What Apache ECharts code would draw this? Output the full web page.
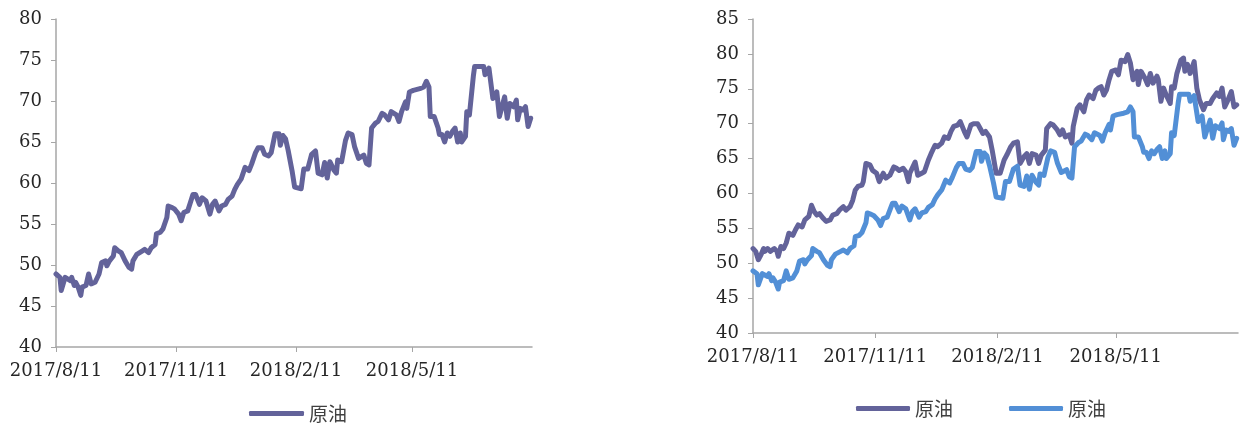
<!DOCTYPE html>
<html>
<head>
<meta charset="utf-8">
<script src="https://cdn.jsdelivr.net/npm/echarts@6/dist/echarts.min.js"></script>
<style>
  html, body { margin: 0; padding: 0; background: #fff; }
  #chart { width: 1241px; height: 428px; }
</style>
</head>
<body>
<div id="chart"></div>
<script>
// days counted from 2017/8/11
const startDate = '2017/8/11';
const endDate = '2018/8/11';
const tickDates = ['2017/8/11', '2017/11/11', '2018/2/11', '2018/5/11'];
const legendLabel = '原油';

// 原油 (left chart, and blue line on the right)
const blueDays = [0,3,4,7,8,11,12,14,15,17,19,20,23,25,26,27,30,33,35,38,39,41,44,45,48,50,53,56,58,59,62,66,68,71,73,76,77,80,82,85,86,89,91,94,96,98,101,103,105,107,110,112,115,118,120,122,125,127,130,132,135,137,139,142,145,148,150,153,155,158,160,163,165,168,171,172,174,176,178,181,183,188,190,193,196,199,201,204,206,208,210,213,215,216,219,222,224,227,229,232,236,238,240,242,245,247,250,252,255,257,261,263,265,268,269,271,274,279,282,284,286,287,290,291,293,294,296,298,300,302,304,306,308,310,311,314,315,317,320,321,325,328,329,332,333,335,338,340,342,344,346,348,351,353,354,356,358,360,362,364];
const blueValues = [48.9,48.5,46.9,48.5,48.7,48.1,48.5,47.5,47.9,47.3,46.3,47.3,47.5,48.9,49.1,47.7,47.9,48.9,50.3,50.5,49.9,50.5,51.1,52.1,51.7,51.5,50.5,49.7,49.5,50.5,51.3,51.7,51.9,51.5,52.1,52.5,53.8,54.0,54.4,55.8,57.2,57.0,56.8,56.2,55.4,56.4,56.6,57.6,58.6,58.6,57.4,58.2,57.8,56.2,57.4,57.8,56.6,57.2,57.4,58.0,58.4,59.2,59.8,60.5,61.9,61.5,62.3,63.7,64.3,64.3,63.5,63.3,63.7,66.0,66.0,64.6,65.8,65.4,64.0,61.5,59.5,59.3,61.7,61.7,63.5,63.9,61.2,61.0,62.5,60.6,62.6,61.6,61.2,62.8,62.6,65.2,66.1,65.9,64.4,63.0,63.4,62.4,62.2,66.7,67.3,67.5,68.5,68.3,67.7,68.7,68.3,67.5,68.7,69.9,69.1,71.1,71.3,71.5,71.7,72.4,71.7,68.1,68.1,68.3,66.7,65.9,65.9,65.0,66.1,65.7,66.3,66.7,65.0,66.1,65.0,65.7,68.7,68.3,73.0,74.2,74.2,74.2,73.2,74.0,74.2,70.3,71.1,68.1,69.3,70.5,67.9,69.7,69.3,70.1,67.7,69.1,68.9,69.3,66.9,67.9];

// 原油 (purple line on the right)
const purpleDays = [0,2,4,6,8,9,11,13,16,18,19,21,23,25,27,28,30,32,34,37,39,42,44,46,48,50,53,55,58,60,63,65,68,70,73,75,77,79,82,83,85,88,90,93,95,98,100,103,106,108,110,113,115,117,118,122,124,127,129,132,134,137,139,142,144,147,149,151,154,156,159,161,164,166,169,171,173,175,178,180,183,186,189,191,194,196,199,201,204,206,208,210,213,215,217,220,221,224,226,229,231,233,235,238,240,241,244,246,249,251,253,256,258,260,262,264,266,268,270,273,275,277,280,282,284,286,289,290,292,295,297,299,301,304,305,307,309,311,314,315,317,319,322,324,325,327,329,332,334,336,339,341,344,346,349,351,353,355,357,360,362,364];
const purpleValues = [52.1,51.7,50.5,51.2,52.1,51.7,52.1,51.7,52.1,51.7,51.0,52.4,52.1,52.9,54.3,54.5,54.0,54.8,55.5,55.2,56.2,56.7,58.3,57.4,56.9,57.1,56.4,56.0,56.2,56.9,57.1,57.6,58.1,57.6,58.1,59.0,60.5,61.0,61.2,61.7,64.3,64.1,63.3,62.9,61.7,62.9,62.2,62.6,63.8,63.6,63.3,63.6,63.1,61.7,62.9,64.5,62.6,62.9,63.1,64.8,65.7,66.9,66.7,67.2,68.1,67.9,68.9,69.6,69.8,70.3,68.9,68.1,69.8,70.0,70.0,69.3,68.6,68.9,68.1,66.2,62.9,62.9,64.8,65.5,66.7,67.2,67.4,64.3,65.3,65.7,64.3,65.7,65.5,64.3,65.5,66.2,69.3,70.0,69.8,69.1,68.4,69.1,68.1,68.4,67.2,69.6,72.2,72.7,71.7,73.4,74.1,73.6,74.8,75.1,75.3,74.1,74.8,76.3,77.5,77.7,77.0,79.1,78.9,79.9,78.7,76.3,77.5,75.6,77.5,76.5,75.6,77.2,75.8,76.8,76.3,73.2,75.1,74.1,72.9,75.3,75.1,77.2,79.1,79.4,77.5,78.5,77.2,78.9,75.1,73.4,72.0,72.9,72.9,73.6,74.4,73.9,75.1,72.4,73.2,74.6,72.4,72.7];

const purple = '#63639a';
const blue = '#528fd6';
const DAY = 86400000;

function parseDate(s) {
  const p = s.split('/').map(Number);
  return Date.UTC(p[0], p[1] - 1, p[2]);
}
const t0 = parseDate(startDate);
const spanDays = (parseDate(endDate) - t0) / DAY;
const tickDays = tickDates.map(s => Math.round((parseDate(s) - t0) / DAY));
const pairs = (days, vals) => days.map((d, i) => [d, vals[i]]);

function fmtDay(v) {
  const d = new Date(t0 + v * DAY);
  return d.getUTCFullYear() + '/' + (d.getUTCMonth() + 1) + '/' + d.getUTCDate();
}

const axisColor = '#a6a6a6';
const labelFont = { color: '#262626', fontFamily: 'DejaVu Serif', fontSize: 18 };

function makeX(gridIndex) {
  return {
    type: 'value', gridIndex, min: 0, max: spanDays,
    axisLine: { lineStyle: { color: axisColor, width: 1.5 } },
    axisTick: { show: true, length: 5, customValues: tickDays, lineStyle: { color: axisColor } },
    axisLabel: Object.assign({ customValues: tickDays, margin: 15, formatter: fmtDay, hideOverlap: false }, labelFont),
    splitLine: { show: false }
  };
}
function makeY(gridIndex, max) {
  return {
    type: 'value', gridIndex, min: 40, max, interval: 5,
    axisLine: { show: true, lineStyle: { color: axisColor, width: 1.5 } },
    axisTick: { show: true, length: 5, lineStyle: { color: axisColor } },
    axisLabel: Object.assign({ margin: 14 }, labelFont),
    splitLine: { show: false }
  };
}
function makeLine(name, data, color, xi) {
  return {
    name, type: 'line', xAxisIndex: xi, yAxisIndex: xi,
    data, showSymbol: false, symbol: 'none',
    lineStyle: { color, width: 5, cap: 'round', join: 'round' },
    itemStyle: { color }
  };
}

const chart = echarts.init(document.getElementById('chart'), null, { renderer: 'canvas' });
chart.setOption({
  animation: false,
  grid: [
    { left: 56, top: 19, width: 476, height: 328 },
    { left: 753, top: 19, width: 485, height: 314 }
  ],
  xAxis: [makeX(0), makeX(1)],
  yAxis: [makeY(0, 80), makeY(1, 85)],
  legend: [
    {
      data: ['left'], left: 244, top: 399, icon: 'roundRect', itemWidth: 55, itemHeight: 5,
      formatter: () => legendLabel,
      textStyle: { fontFamily: 'Noto Sans CJK SC', fontSize: 19, color: '#404040' }
    },
    {
      data: ['rightA', 'rightB'], left: 851, top: 394, icon: 'roundRect', itemWidth: 54, itemHeight: 5,
      itemGap: 56, formatter: () => legendLabel,
      textStyle: { fontFamily: 'Noto Sans CJK SC', fontSize: 19, color: '#404040' }
    }
  ],
  series: [
    makeLine('left', pairs(blueDays, blueValues), purple, 0),
    makeLine('rightA', pairs(purpleDays, purpleValues), purple, 1),
    makeLine('rightB', pairs(blueDays, blueValues), blue, 1)
  ]
});
</script>
</body>
</html>
